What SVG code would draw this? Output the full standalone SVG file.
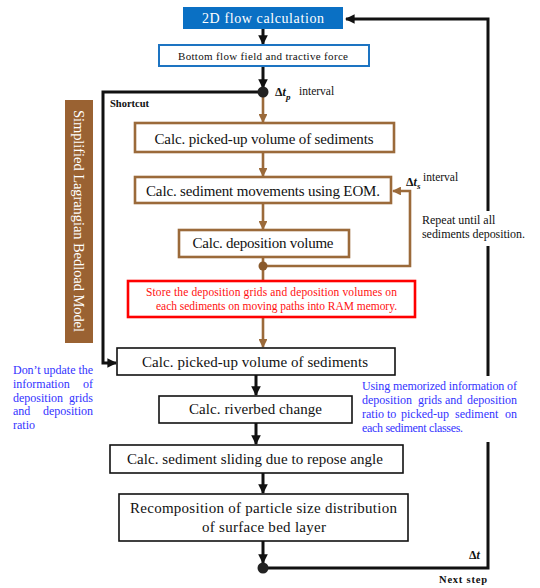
<svg xmlns="http://www.w3.org/2000/svg" width="540" height="588" viewBox="0 0 540 588">
<style>
text{font-family:"Liberation Serif","Times New Roman",serif;fill:#111}
.bx{fill:#fff;stroke:#111;stroke-width:1.6}
.br{fill:#fff;stroke:#9b6a3a;stroke-width:2.6}
.m{font-size:15px;text-anchor:middle}
.blk{fill:none;stroke:#111;stroke-width:3}
.brl{fill:none;stroke:#9b6a3a;stroke-width:2.6}
.bt{fill:#3333ff;font-size:12px}
.e{text-anchor:end}
.rt{fill:#ff1010;font-size:11.5px;text-anchor:middle}
.lbl{font-size:10.5px;font-weight:bold}
.iv{font-size:11.5px}
</style>
<defs>
<marker id="ab" viewBox="0 0 10 10" refX="9" refY="5" markerWidth="3.2" markerHeight="3.2" orient="auto" markerUnits="strokeWidth"><path d="M0,0 L10,5 L0,10 z" fill="#111"/></marker>
<marker id="abr" viewBox="0 0 10 10" refX="9" refY="5" markerWidth="3.4" markerHeight="3.4" orient="auto" markerUnits="strokeWidth"><path d="M0,0 L10,5 L0,10 z" fill="#9b6a3a"/></marker>
</defs>

<g id="connectors">
<path class="blk" d="M263,29 V44" marker-end="url(#ab)"/>
<path class="blk" d="M263,66 V88" marker-end="url(#ab)"/>
<path class="blk" d="M263,92 H103 V363 H116" marker-end="url(#ab)"/>
<path class="brl" d="M263,92 V122" marker-end="url(#abr)"/>
<path class="brl" d="M263,152 V176" marker-end="url(#abr)"/>
<path class="brl" d="M263,203 V229" marker-end="url(#abr)"/>
<path class="brl" d="M263,257 V281"/>
<path class="brl" d="M263,266 H410 V191 H393" marker-end="url(#abr)"/>
<path class="brl" d="M263,317 V347" marker-end="url(#abr)"/>
<path class="blk" d="M256,375 V395" marker-end="url(#ab)"/>
<path class="blk" d="M256,423 V444" marker-end="url(#ab)"/>
<path class="blk" d="M263,473 V493" marker-end="url(#ab)"/>
<path class="blk" d="M263,541 V563" marker-end="url(#ab)"/>
<path class="blk" d="M263,568 H488 V19 H346" marker-end="url(#ab)"/>
<circle cx="263" cy="92" r="5.5" fill="#222"/>
<circle cx="263" cy="266" r="4.5" fill="#8a5a2c"/>
<circle cx="263" cy="568" r="5.5" fill="#222"/>
</g>

<g id="flow2d">
<rect x="183" y="7" width="160" height="22" fill="#0a70c4"/>
<text x="263" y="23" text-anchor="middle" style="fill:#fff;font-size:14px" textLength="122" lengthAdjust="spacing">2D flow calculation</text>
</g>
<g id="bottomflow">
<rect x="159" y="45" width="210" height="21" fill="#fff" stroke="#1d74c2" stroke-width="2"/>
<text x="263" y="59.5" text-anchor="middle" style="font-size:11px" textLength="170" lengthAdjust="spacing">Bottom flow field and tractive force</text>
</g>
<g id="dtp">
<text x="275" y="96" style="font-size:12px;font-weight:bold">Δ<tspan font-style="italic">t</tspan><tspan font-size="9" font-style="italic" dy="4">p</tspan></text>
<text class="iv" x="299" y="95">interval</text>
</g>
<g id="shortcut">
<text x="110" y="107" class="lbl">Shortcut</text>
</g>
<g id="slbm">
<rect x="65" y="100" width="28" height="243" fill="#9a6232"/>
<text transform="translate(74,221) rotate(90)" text-anchor="middle" style="fill:#fff;font-size:14.5px" textLength="222" lengthAdjust="spacing">Simplified Lagrangian Bedload Model</text>
</g>
<g id="pickup1">
<rect class="br" x="135" y="123" width="259" height="29"/>
<text class="m" x="264" y="143.5" textLength="219" lengthAdjust="spacing">Calc. picked-up volume of sediments</text>
</g>
<g id="eom">
<rect class="br" x="135" y="177" width="256" height="26"/>
<text class="m" x="263" y="195.5" textLength="234" lengthAdjust="spacing">Calc. sediment movements using EOM.</text>
</g>
<g id="dts">
<text x="406" y="186" style="font-size:12px;font-weight:bold">Δ<tspan font-style="italic">t</tspan><tspan font-size="9" font-style="italic" dy="3">s</tspan></text>
<text class="iv" x="423" y="181">interval</text>
</g>
<g id="deposition">
<rect class="br" x="179" y="230" width="170" height="27"/>
<text class="m" x="263" y="248" textLength="141" lengthAdjust="spacing">Calc. deposition volume</text>
</g>
<g id="repeat">
<rect x="414" y="211" width="122" height="35" fill="#fff"/>
<text x="422" y="224" style="font-size:12px">Repeat until all</text>
<text x="422" y="238" style="font-size:12px" textLength="103" lengthAdjust="spacing">sediments deposition.</text>
</g>
<g id="store">
<rect x="128" y="281" width="287" height="36" fill="#fff" stroke="#ff0000" stroke-width="2.6"/>
<text class="rt" x="271.5" y="296" textLength="251" lengthAdjust="spacing">Store the deposition grids and deposition volumes on</text>
<text class="rt" x="276.5" y="310" textLength="241" lengthAdjust="spacing">each sediments on moving paths into RAM memory.</text>
</g>
<g id="pickup2">
<rect class="bx" x="117" y="348" width="278" height="27"/>
<text class="m" x="255" y="366.5" textLength="226" lengthAdjust="spacing">Calc. picked-up volume of sediments</text>
</g>
<g id="dontupdate">
<text class="bt" x="13" y="374" textLength="80" lengthAdjust="spacing">Don’t update the</text>
<text class="bt" x="13" y="388">information</text>
<text class="bt e" x="93" y="388">of</text>
<text class="bt" x="13" y="402">deposition</text>
<text class="bt e" x="93" y="402">grids</text>
<text class="bt" x="13" y="415">and</text>
<text class="bt e" x="93" y="415">deposition</text>
<text class="bt" x="13" y="429">ratio</text>
</g>
<g id="riverbed">
<rect class="bx" x="159" y="396" width="193" height="27"/>
<text class="m" x="255.5" y="414" textLength="133" lengthAdjust="spacing">Calc. riverbed change</text>
</g>
<g id="memorized">
<rect x="355" y="376" width="172" height="66" fill="#fff"/>
<text class="bt" x="362" y="390" textLength="155" lengthAdjust="spacing">Using memorized information of</text>
<text class="bt" y="404"><tspan x="362">deposition</tspan><tspan x="418">grids</tspan><tspan x="445">and</tspan></text>
<text class="bt e" x="517" y="404">deposition</text>
<text class="bt" y="418"><tspan x="362">ratio</tspan><tspan x="387">to</tspan><tspan x="401">picked-up</tspan><tspan x="455">sediment</tspan></text>
<text class="bt e" x="517" y="418">on</text>
<text class="bt" x="362" y="432" textLength="101" lengthAdjust="spacing">each sediment classes.</text>
</g>
<g id="sliding">
<rect class="bx" x="110" y="445" width="293" height="28"/>
<text class="m" x="255" y="463.5" textLength="256" lengthAdjust="spacing">Calc. sediment sliding due to repose angle</text>
</g>
<g id="recomp">
<rect class="bx" x="119" y="494" width="289" height="47"/>
<text class="m" x="263.5" y="513" textLength="267" lengthAdjust="spacing">Recomposition of particle size distribution</text>
<text class="m" x="264" y="532" textLength="124" lengthAdjust="spacing">of surface bed layer</text>
</g>
<g id="dt">
<text x="469" y="559" style="font-size:12px;font-weight:bold">Δ<tspan font-style="italic">t</tspan></text>
</g>
<g id="nextstep">
<text x="439" y="583" class="lbl" textLength="48" lengthAdjust="spacing">Next step</text>
</g>
</svg>
